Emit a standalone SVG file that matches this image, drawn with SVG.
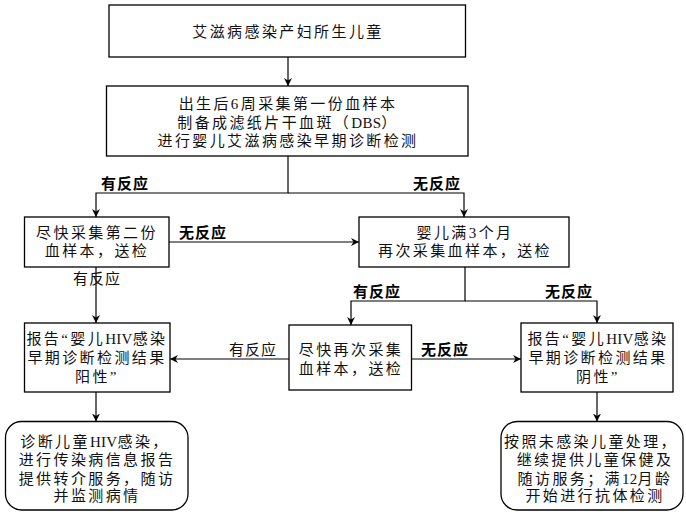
<svg xmlns="http://www.w3.org/2000/svg" width="686" height="516" viewBox="0 0 686 516">
<defs>
<marker id="arr" markerUnits="userSpaceOnUse" markerWidth="10" markerHeight="10" refX="8" refY="4" orient="auto">
<path d="M0,0 L8,4 L0,8 L2.5,4 z" fill="#000"/>
</marker>
<style>
.box{fill:#fff;stroke:#000;stroke-width:1.3}
.t{font-family:"Liberation Serif","Noto Sans CJK SC",serif;font-size:15px;letter-spacing:2.4px;fill:#111;text-anchor:middle;dominant-baseline:central}
.lb{font-family:"Liberation Serif","Noto Sans CJK SC",serif;font-size:15px;font-weight:bold;letter-spacing:1px;fill:#000;text-anchor:middle;dominant-baseline:central}
.lr{font-family:"Liberation Serif","Noto Sans CJK SC",serif;font-size:15px;letter-spacing:1px;fill:#111;text-anchor:middle;dominant-baseline:central}
.c{fill:none;stroke:#000;stroke-width:1.2}
.la{letter-spacing:0.3px}
</style>
</defs>
<rect width="686" height="516" fill="#fff"/>
<g id="connectors">
<path class="c" d="M288,57 V86" marker-end="url(#arr)"/>
<path class="c" d="M288,156 V193 H96 V217" marker-end="url(#arr)"/>
<path class="c" d="M288,193 H464 V217" marker-end="url(#arr)"/>
<path class="c" d="M169,242 H359" marker-end="url(#arr)"/>
<path class="c" d="M96,267 V323" marker-end="url(#arr)"/>
<path class="c" d="M465,267 V301 H351 V325" marker-end="url(#arr)"/>
<path class="c" d="M465,301 H597 V323" marker-end="url(#arr)"/>
<path class="c" d="M289,359 H170" marker-end="url(#arr)"/>
<path class="c" d="M411.5,359 H521" marker-end="url(#arr)"/>
<path class="c" d="M96,392 V421.5" marker-end="url(#arr)"/>
<path class="c" d="M597,392 V421.5" marker-end="url(#arr)"/>
<text class="lb" x="125" y="184">有反应</text>
<text class="lb" x="437" y="184">无反应</text>
<text class="lb" x="203" y="233">无反应</text>
<text class="lr" x="97" y="279">有反应</text>
<text class="lb" x="377" y="292">有反应</text>
<text class="lb" x="569" y="292">无反应</text>
<text class="lr" x="253" y="350">有反应</text>
<text class="lb" x="445" y="350">无反应</text>
</g>
<g id="n1">
<rect class="box" x="109" y="5" width="356.5" height="52"/>
<text class="t" x="288" y="32">艾滋病感染产妇所生儿童</text>
</g>
<g id="n2">
<rect class="box" x="106.5" y="86" width="361.5" height="70"/>
<text class="t" x="288" y="104">出生后6周采集第一份血样本</text>
<text class="t" x="288" y="123">制备成滤纸片干血斑（<tspan class="la">DBS</tspan>）</text>
<text class="t" x="288" y="141">进行婴儿艾滋病感染早期诊断检测</text>
</g>
<g id="n3">
<rect class="box" x="24.5" y="217" width="144.5" height="50"/>
<text class="t" x="97" y="233">尽快采集第二份</text>
<text class="t" x="97" y="251">血样本，送检</text>
</g>
<g id="n4">
<rect class="box" x="359" y="217" width="210" height="50"/>
<text class="t" x="465" y="233">婴儿满3个月</text>
<text class="t" x="465" y="251">再次采集血样本，送检</text>
</g>
<g id="n5">
<rect class="box" x="24.5" y="323" width="145.5" height="69"/>
<text class="t" x="97" y="339">报告“婴儿<tspan class="la">HIV</tspan>感染</text>
<text class="t" x="97" y="358">早期诊断检测结果</text>
<text class="t" x="97" y="377">阳性”</text>
</g>
<g id="n6">
<rect class="box" x="289" y="325" width="122.5" height="65"/>
<text class="t" x="351" y="350">尽快再次采集</text>
<text class="t" x="351" y="369">血样本，送检</text>
</g>
<g id="n7">
<rect class="box" x="521" y="323" width="152" height="69"/>
<text class="t" x="598" y="339">报告“婴儿<tspan class="la">HIV</tspan>感染</text>
<text class="t" x="598" y="358">早期诊断检测结果</text>
<text class="t" x="598" y="377">阴性”</text>
</g>
<g id="n8">
<rect class="box" x="5.5" y="421.5" width="182.5" height="88.5" rx="16" ry="16"/>
<text class="t" x="95" y="442">诊断儿童<tspan class="la">HIV</tspan>感染，</text>
<text class="t" x="97" y="460">进行传染病信息报告</text>
<text class="t" x="97" y="478.5">提供转介服务，随访</text>
<text class="t" x="97" y="496">并监测病情</text>
</g>
<g id="n9">
<rect class="box" x="501" y="421.5" width="182" height="88.5" rx="16" ry="16"/>
<text class="t" x="591" y="442">按照未感染儿童处理，</text>
<text class="t" x="595" y="460">继续提供儿童保健及</text>
<text class="t" x="595" y="478.5">随访服务；满<tspan class="la">12</tspan>月龄</text>
<text class="t" x="595" y="496">开始进行抗体检测</text>
</g>
</svg>
